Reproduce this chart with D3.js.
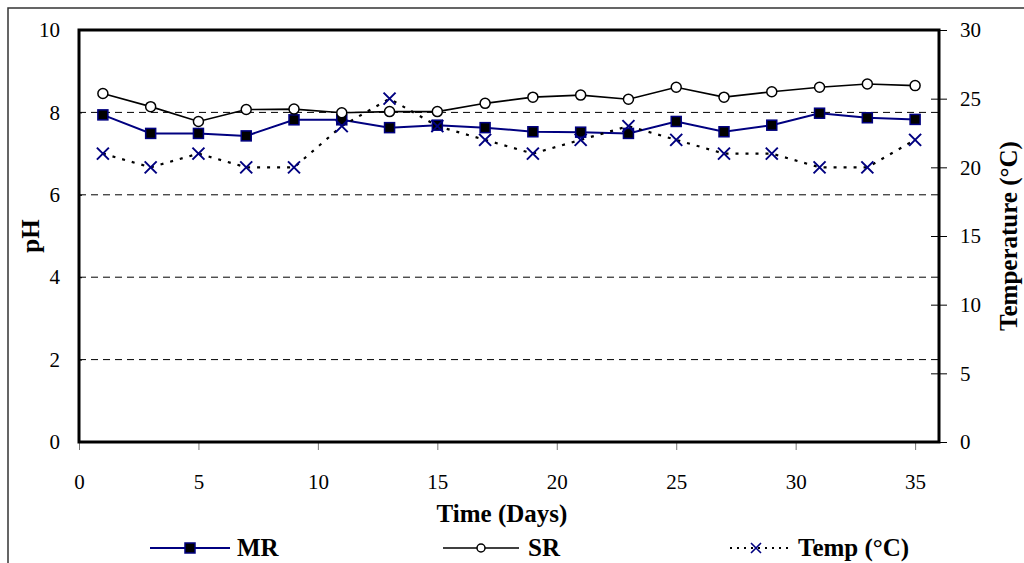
<!DOCTYPE html>
<html>
<head>
<meta charset="utf-8">
<script src="https://cdn.jsdelivr.net/npm/d3@7"></script>
<style>
  body { margin: 0; background: #fff; }
  svg { display: block; }
  svg text { font-family: "Liberation Serif", "Times New Roman", serif; fill: #000; }
</style>
</head>
<body>
<svg id="chart" width="1024" height="563"></svg>
<script>
// Sampling days
const days = [1, 3, 5, 7, 9, 11, 13, 15, 17, 19, 21, 23, 25, 27, 29, 31, 33, 35];
// pH of the MR reactor
const mrPH = [7.94, 7.49, 7.49, 7.43, 7.82, 7.82, 7.63, 7.69, 7.63, 7.53, 7.52, 7.49, 7.78, 7.53, 7.69, 7.98, 7.87, 7.83];
// pH of the SR reactor
const srPH = [8.46, 8.14, 7.78, 8.07, 8.08, 7.99, 8.02, 8.02, 8.22, 8.37, 8.42, 8.32, 8.61, 8.37, 8.50, 8.61, 8.69, 8.65];
// Temperature (°C)
const tempC = [21, 20, 21, 20, 20, 23, 25, 23, 22, 21, 22, 23, 22, 21, 21, 20, 20, 22];

const xTicks = [0, 5, 10, 15, 20, 25, 30, 35];
const phTicks = [0, 2, 4, 6, 8, 10];
const phGrid = [2, 4, 6, 8];
const tempTicks = [0, 5, 10, 15, 20, 25, 30];

const NAVY = "#000080";
const SERIF = '"Liberation Serif", "Times New Roman", serif';
const svg = d3.select("#chart");

const plot = { left: 79, right: 939, top: 30, bottom: 442 };

const x = d3.scaleLinear().domain([0, 36]).range([plot.left, plot.right]);
const yPH = d3.scaleLinear().domain([0, 10]).range([plot.bottom, plot.top]);
const yT = d3.scaleLinear().domain([0, 30]).range([plot.bottom, plot.top]);

// Outer chart border
svg.append("rect")
  .attr("x", 8).attr("y", 8).attr("width", 1100).attr("height", 600)
  .attr("fill", "none").attr("stroke", "#333").attr("stroke-width", 1.5);

// Dashed horizontal gridlines
svg.append("g").selectAll("line").data(phGrid).join("line")
  .attr("x1", plot.left).attr("x2", plot.right)
  .attr("y1", d => yPH(d)).attr("y2", d => yPH(d))
  .attr("stroke", "#000").attr("stroke-width", 1)
  .attr("stroke-dasharray", "7,5");

function styleTicks(g) {
  g.attr("font-family", null).attr("font-size", null);
  g.select(".domain").remove();
  g.selectAll(".tick text").style("font-family", SERIF).style("font-size", "21px").attr("fill", "#000");
}

// Left axis (pH)
const gl = svg.append("g").attr("transform", `translate(${plot.left},0)`)
  .call(d3.axisLeft(yPH).tickValues(phTicks).tickSize(9).tickPadding(10).tickFormat(d3.format("d")));
styleTicks(gl);
gl.selectAll(".tick line").attr("x2", 3).attr("stroke", "#000");

// Right axis (temperature)
const gr = svg.append("g").attr("transform", `translate(${plot.right},0)`)
  .call(d3.axisRight(yT).tickValues(tempTicks).tickSize(8).tickPadding(13).tickFormat(d3.format("d")));
styleTicks(gr);
gr.selectAll(".tick line").attr("x1", -8).attr("stroke", "#000");

// Bottom axis (days)
const gb = svg.append("g").attr("transform", `translate(0,${plot.bottom})`)
  .call(d3.axisBottom(x).tickValues(xTicks).tickSize(8).tickPadding(24).tickFormat(d3.format("d")));
styleTicks(gb);
gb.selectAll(".tick line").attr("stroke", "#777");

// Heavy plot frame
svg.append("rect")
  .attr("x", plot.left).attr("y", plot.top)
  .attr("width", plot.right - plot.left).attr("height", plot.bottom - plot.top)
  .attr("fill", "none").attr("stroke", "#000").attr("stroke-width", 3);

// Series lines
const linePH = d3.line().x((d, i) => x(days[i])).y(d => yPH(d));
const lineT = d3.line().x((d, i) => x(days[i])).y(d => yT(d));

// MR
svg.append("path").datum(mrPH).attr("d", linePH)
  .attr("fill", "none").attr("stroke", NAVY).attr("stroke-width", 2);
svg.append("g").selectAll("rect").data(mrPH).join("rect")
  .attr("x", (d, i) => x(days[i]) - 5).attr("y", d => yPH(d) - 5)
  .attr("width", 10).attr("height", 10)
  .attr("fill", "#000").attr("stroke", NAVY).attr("stroke-width", 1.5);

// SR
svg.append("path").datum(srPH).attr("d", linePH)
  .attr("fill", "none").attr("stroke", "#000").attr("stroke-width", 1.6);
svg.append("g").selectAll("circle").data(srPH).join("circle")
  .attr("cx", (d, i) => x(days[i])).attr("cy", d => yPH(d)).attr("r", 5)
  .attr("fill", "#fff").attr("stroke", "#000").attr("stroke-width", 1.5);

// Temperature
svg.append("path").datum(tempC).attr("d", lineT)
  .attr("fill", "none").attr("stroke", "#000").attr("stroke-width", 2.2)
  .attr("stroke-dasharray", "3,7");
const xMark = (cx, cy, s) => `M${cx - s},${cy - s}L${cx + s},${cy + s}M${cx - s},${cy + s}L${cx + s},${cy - s}`;
svg.append("g").selectAll("path").data(tempC).join("path")
  .attr("d", (d, i) => xMark(x(days[i]), yT(d), 6))
  .attr("fill", "none").attr("stroke", NAVY).attr("stroke-width", 2);

// Axis titles
svg.append("text")
  .attr("transform", `translate(39,${(plot.top + plot.bottom) / 2}) rotate(-90)`)
  .attr("text-anchor", "middle").style("font-size", "25px").attr("font-weight", "bold")
  .text("pH");
svg.append("text")
  .attr("transform", `translate(1017,${(plot.top + plot.bottom) / 2}) rotate(-90)`)
  .attr("text-anchor", "middle").style("font-size", "25px").attr("font-weight", "bold")
  .text("Temperature (°C)");
svg.append("text")
  .attr("x", 502).attr("y", 522)
  .attr("text-anchor", "middle").style("font-size", "25px").attr("font-weight", "bold")
  .text("Time (Days)");

// Legend
const legY = 548;
const leg = svg.append("g");
// MR
leg.append("line").attr("x1", 150).attr("x2", 230).attr("y1", legY).attr("y2", legY)
  .attr("stroke", NAVY).attr("stroke-width", 2);
leg.append("rect").attr("x", 185).attr("y", legY - 5).attr("width", 10).attr("height", 10)
  .attr("fill", "#000").attr("stroke", NAVY).attr("stroke-width", 1.5);
leg.append("text").attr("x", 237).attr("y", legY + 8).style("font-size", "25px").attr("font-weight", "bold").text("MR");
// SR
leg.append("line").attr("x1", 443).attr("x2", 519).attr("y1", legY).attr("y2", legY)
  .attr("stroke", "#000").attr("stroke-width", 1.6);
leg.append("circle").attr("cx", 481).attr("cy", legY).attr("r", 4)
  .attr("fill", "#fff").attr("stroke", "#000").attr("stroke-width", 1.5);
leg.append("text").attr("x", 528).attr("y", legY + 8).style("font-size", "25px").attr("font-weight", "bold").text("SR");
// Temp
leg.append("line").attr("x1", 730).attr("x2", 788).attr("y1", legY).attr("y2", legY)
  .attr("stroke", "#000").attr("stroke-width", 2).attr("stroke-dasharray", "2,5");
leg.append("path").attr("d", xMark(756, legY, 5))
  .attr("fill", "none").attr("stroke", NAVY).attr("stroke-width", 1.6);
leg.append("text").attr("x", 798).attr("y", legY + 8).style("font-size", "25px").attr("font-weight", "bold").text("Temp (°C)");
</script>
</body>
</html>
